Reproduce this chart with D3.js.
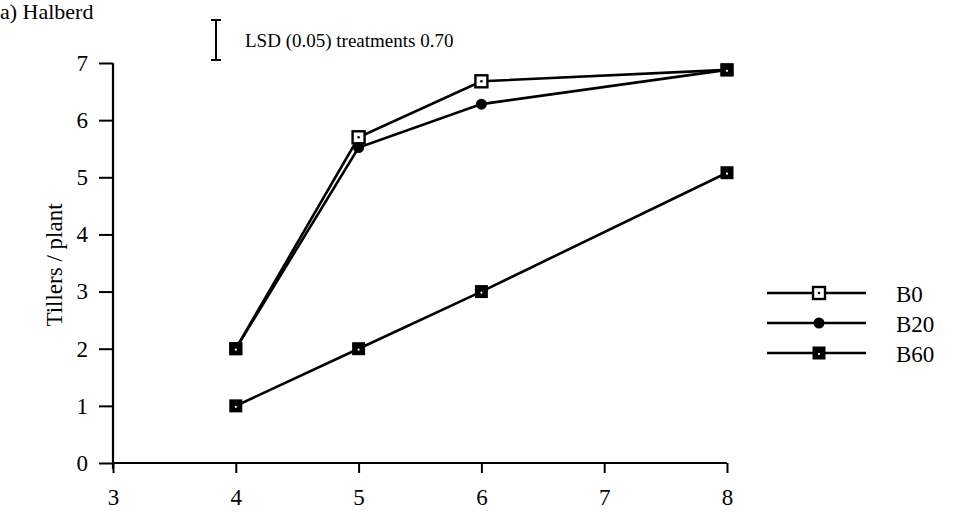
<!DOCTYPE html>
<html>
<head>
<meta charset="utf-8">
<script src="https://cdn.jsdelivr.net/npm/d3@7"></script>
<style>
  html, body { margin: 0; padding: 0; background: #fff; }
  svg { display: block; }
  svg text { font-family: "Liberation Serif", "DejaVu Serif", serif; fill: #000; }
</style>
</head>
<body>
<svg id="chart" width="960" height="512"></svg>
<script>
// Weeks after sowing (x) and tillers per plant for each boron treatment
const weeks = [4, 5, 6, 8];
const b0 = [2.0, 5.70, 6.68, 6.88];
const b20 = [2.0, 5.52, 6.28, 6.88];
const b60 = [1.0, 2.0, 3.0, 5.08];
const seriesNames = ["B0", "B20", "B60"];
const xTicks = [3, 4, 5, 6, 7, 8];
const yTicks = [0, 1, 2, 3, 4, 5, 6, 7];
const lsdValue = 0.70;

const SERIF = "Liberation Serif";

const series = [
  { name: seriesNames[0], values: b0, marker: "openSquare" },
  { name: seriesNames[1], values: b20, marker: "circle" },
  { name: seriesNames[2], values: b60, marker: "filledSquare" }
];

const svg = d3.select("#chart");
const x = d3.scaleLinear().domain([3, 8]).range([113, 727]);
const y = d3.scaleLinear().domain([0, 7]).range([463, 63]);

// Axes
const xAxis = d3.axisBottom(x).tickValues(xTicks).tickSize(10).tickPadding(16).tickFormat(d3.format("d"));
const yAxis = d3.axisLeft(y).tickValues(yTicks).tickSize(14).tickPadding(11).tickFormat(d3.format("d"));

const gx = svg.append("g").attr("transform", `translate(0,${y(0)})`).call(xAxis);
const gy = svg.append("g").attr("transform", `translate(${x(3)},0)`).call(yAxis);
[gx, gy].forEach(g => {
  g.attr("font-family", SERIF).attr("font-size", 23);
  g.select(".domain").attr("stroke", "#000").attr("stroke-width", 2.2)
    .attr("d", g === gx ? `M${x(3)},0H${x(8)}` : `M0,${y(0) + 6}V${y(7)}`);
  g.selectAll(".tick line").attr("stroke", "#000").attr("stroke-width", 2);
  g.selectAll(".tick text").attr("fill", "#000");
});

// Y-axis title
svg.append("text")
  .attr("transform", `translate(62,${(y(0) + y(7)) / 2 + 2}) rotate(-90)`)
  .attr("text-anchor", "middle")
  .attr("font-size", 23)
  .text("Tillers / plant");

// Panel title
svg.append("text").attr("x", 0).attr("y", 19).attr("font-size", 22).text("a) Halberd");

// LSD bar, drawn from its stated value on the y scale
const lsdLen = y(0) - y(lsdValue);
const lsdMid = 40, lsdX = 216;
const lsd = svg.append("g").attr("stroke", "#000").attr("stroke-width", 2);
lsd.append("line").attr("x1", lsdX).attr("x2", lsdX).attr("y1", lsdMid - lsdLen / 2).attr("y2", lsdMid + lsdLen / 2);
lsd.append("line").attr("x1", lsdX - 5).attr("x2", lsdX + 5).attr("y1", lsdMid - lsdLen / 2).attr("y2", lsdMid - lsdLen / 2);
lsd.append("line").attr("x1", lsdX - 5).attr("x2", lsdX + 5).attr("y1", lsdMid + lsdLen / 2).attr("y2", lsdMid + lsdLen / 2);
svg.append("text").attr("x", 245).attr("y", 47).attr("font-size", 19)
  .text(`LSD (0.05) treatments ${lsdValue.toFixed(2)}`);

// Marker drawing
function drawMarker(g, type, cx, cy) {
  if (type === "openSquare") {
    g.append("rect").attr("x", cx - 6).attr("y", cy - 6).attr("width", 12).attr("height", 12)
      .attr("fill", "#fff").attr("stroke", "#000").attr("stroke-width", 2.4);
    g.append("circle").attr("cx", cx).attr("cy", cy).attr("r", 1.3).attr("fill", "#000");
  } else if (type === "circle") {
    g.append("circle").attr("cx", cx).attr("cy", cy).attr("r", 5.5).attr("fill", "#000");
  } else {
    g.append("rect").attr("x", cx - 6.5).attr("y", cy - 6.5).attr("width", 13).attr("height", 13)
      .attr("fill", "#000");
    g.append("circle").attr("cx", cx).attr("cy", cy + 1).attr("r", 1.1).attr("fill", "#fff");
  }
}

const line = d3.line().x(d => x(d[0])).y(d => y(d[1]));
const plot = svg.append("g");
series.forEach(s => {
  const pts = weeks.map((w, i) => [w, s.values[i]]);
  plot.append("path").datum(pts).attr("d", line)
    .attr("fill", "none").attr("stroke", "#000").attr("stroke-width", 2.6);
});
series.forEach(s => {
  const g = plot.append("g");
  weeks.forEach((w, i) => {
    // where B0 and B20 coincide the stacked markers read as one solid square
    const type = (s.name !== "B60" && (w === 4 || w === 8)) ? "filledSquare" : s.marker;
    drawMarker(g, type, x(w), y(s.values[i]));
  });
});

// Legend
const legendY = [293, 323, 353];
series.forEach((s, i) => {
  const g = svg.append("g");
  g.append("line").attr("x1", 767).attr("x2", 866).attr("y1", legendY[i]).attr("y2", legendY[i])
    .attr("stroke", "#000").attr("stroke-width", 2.6);
  drawMarker(g, s.marker, 819, legendY[i]);
  g.append("text").attr("x", 896).attr("y", legendY[i] + 9).attr("font-size", 23).text(s.name);
});
</script>
</body>
</html>
